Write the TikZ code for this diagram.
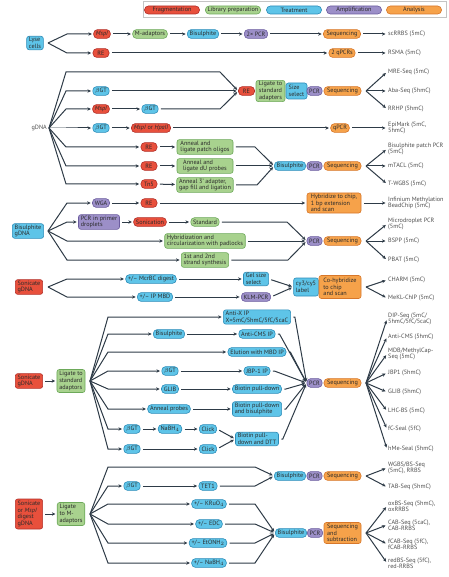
\documentclass[tikz,border=0pt]{standalone}
\usepackage{fontspec}
\setmainfont{PT Sans}
\usetikzlibrary{arrows.meta}

\definecolor{fragfill}{HTML}{E8503C}
\definecolor{fragline}{HTML}{B3302A}
\definecolor{libfill}{HTML}{A8D28E}
\definecolor{libline}{HTML}{6DA95A}
\definecolor{treatfill}{HTML}{5EC4E8}
\definecolor{treatline}{HTML}{2C8CB8}
\definecolor{ampfill}{HTML}{9C8FC8}
\definecolor{ampline}{HTML}{6B5C9E}
\definecolor{anafill}{HTML}{F6A24A}
\definecolor{analine}{HTML}{D7772A}
\definecolor{boxtext}{HTML}{2B2B2B}
\definecolor{labtext}{HTML}{4D4D4D}
\definecolor{linkcol}{HTML}{2E3B47}
\definecolor{legendline}{HTML}{C4C4C4}

\tikzset{
  box/.style={draw, line width=0.6pt, rounded corners=3.8pt, minimum width=16pt,
    minimum height=8.8pt, inner xsep=2.3pt, inner ysep=0.6pt,
    font=\fontsize{6.2}{6.6}\selectfont, text=boxtext, align=left},
  blk/.style={rounded corners=2.4pt, inner ysep=1.2pt},
  frag/.style={box, fill=fragfill, draw=fragline},
  lib/.style={box, fill=libfill, draw=libline},
  treat/.style={box, fill=treatfill, draw=treatline},
  amp/.style={box, fill=ampfill, draw=ampline},
  ana/.style={box, fill=anafill, draw=analine},
  legpill/.style={minimum width=55pt, minimum height=8pt},
  readout/.style={anchor=west, inner sep=1pt, font=\fontsize{6.2}{6.2}\selectfont,
    text=labtext, align=left},
  link/.style={draw=linkcol, line width=1pt,
    -{Stealth[length=3.6pt,width=3.4pt]}, shorten >=1.5pt},
  hop/.style={link, shorten <=2.5pt},
}

\begin{document}
\begin{tikzpicture}[x=1pt, y=-1pt]
    \useasboundingbox (0,0) rectangle (448,577);

    % Legend
    \draw[legendline, line width=0.7pt] (143,1.5) rectangle (446,17.5);
    \node[frag, legpill] (leg1) at (172,10) {Fragmentation};
    \node[lib, legpill] (leg2) at (233,10) {Library preparation};
    \node[treat, legpill] (leg3) at (294,10) {Treatment};
    \node[amp, legpill] (leg4) at (354,10) {Amplification};
    \node[ana, legpill] (leg5) at (414,10) {Analysis};

    % Single cells
    \node[treat, blk] (lyse) at (35,43) {Lyse\\cells};
    \coordinate (f1) at (48,43);
    \coordinate (b1) at (67,43);
    \node[frag] (msp1) at (102,34) {\textit{MspI}};
    \node[lib] (madapt) at (150,34) {M-adaptors};
    \node[treat] (bis1) at (203,34) {Bisulphite};
    \node[amp] (pcr1) at (256,34) {2× PCR};
    \node[ana, minimum width=37pt] (seq1) at (342,34) {Sequencing};
    \node[readout] (r1a) at (387,34) {scRRBS (5mC)};
    \node[frag] (re1) at (101,53) {RE};
    \node[ana] (qpcr1) at (342,53) {2 qPCRs};
    \node[readout] (r1b) at (387,53) {RSMA (5mC)};
    \foreach \n in {msp1, re1}
        \draw[link] (f1) -- (\n.west -| b1) -- (\n.west);
    \draw[hop] (msp1) -- (madapt);
    \draw[hop] (madapt) -- (bis1);
    \draw[hop] (bis1) -- (pcr1);
    \draw[hop] (pcr1) -- (seq1);
    \draw[hop] (seq1.east) -- (r1a.west);
    \draw[hop] (re1) -- (qpcr1);
    \draw[hop] (qpcr1.east) -- (r1b.west);

    % gDNA
    \node[readout, anchor=east] (gdna) at (48,128) {gDNA};
    \coordinate (f2) at (49,128);
    \coordinate (b2) at (66,128);
    \node[treat] (bgt2a) at (101,91) {$\beta$GT};
    \node[frag] (msp2) at (101,109) {\textit{MspI}};
    \node[treat] (bgt2b) at (150,109) {$\beta$GT};
    \node[treat] (bgt2c) at (101,128) {$\beta$GT};
    \node[frag] (mh2) at (151,128) {\textit{MspI} or \textit{HpaII}};
    \node[ana] (qpcr2) at (340,128) {qPCR};
    \node[readout] (r2d) at (387,128) {EpiMark (5mC,\\5hmC)};
    \node[frag] (re2) at (246.5,91) {RE};
    \node[lib, blk, align=center, minimum width=29pt] (lig2) at (270.5,91) {Ligate to\\standard\\adapters};
    \node[treat, blk, minimum width=21pt, minimum height=16pt] (size2) at (296.5,91) {Size\\select};
    \node[amp, minimum width=15pt] (pcr2) at (314.5,91) {PCR};
    \node[ana, minimum width=37pt] (seq2) at (342.5,91) {Sequencing};
    \node[frag] (re2a) at (149,147) {RE};
    \node[frag] (re2b) at (149,166) {RE};
    \node[frag] (tn5) at (149,184) {Tn5};
    \node[lib, blk, minimum width=56pt] (patch) at (205,147) {Anneal and\\ligate patch oligos};
    \node[lib, blk, minimum width=56pt] (dU) at (205,166) {Anneal and\\ligate dU probes};
    \node[lib, blk, minimum width=56pt] (gapfill) at (205,185) {Anneal 3' adapter,\\gap fill and ligation};
    \node[treat] (bis2) at (290,166) {Bisulphite};
    \node[amp, minimum width=15pt] (pcr2b) at (314.5,166) {PCR};
    \node[ana, minimum width=37pt] (seq2b) at (342.5,166) {Sequencing};

    \draw[link] (f2) -- (66,72) -- (220,72) -- (re2.west);
    \foreach \n in {bgt2a, msp2, bgt2c, re2a, re2b, tn5}
        \draw[link] (f2) -- (\n.west -| b2) -- (\n.west);
    \draw[hop] (bgt2a) -- (re2);
    \draw[hop] (msp2) -- (bgt2b);
    \draw[hop] (bgt2b.east) -- (220,109) -- (re2.west);
    \draw[hop] (bgt2c) -- (mh2);
    \draw[hop] (mh2) -- (qpcr2);
    \draw[hop] (qpcr2.east) -- (r2d.west);
    \draw[hop] (re2a) -- (patch);
    \draw[hop] (re2b) -- (dU);
    \draw[hop] (tn5) -- (gapfill);
    \draw[hop] (patch.east) -- (255,147) -- (bis2.west);
    \draw[hop] (dU) -- (bis2);
    \draw[hop] (gapfill.east) -- (257,185) -- (bis2.west);

    \coordinate (x2) at (366,91);
    \foreach \y/\t [count=\i] in {72/{MRE-Seq (5mC)}, 91/{Aba-Seq (5hmC)}, 109/{RRHP (5hmC)}} {
        \node[readout] (r2-\i) at (387,\y) {\t};
        \draw[link] (x2) -- (r2-\i.west);
    }
    \coordinate (x2b) at (366,166);
    \foreach \y/\t [count=\i] in {149/{Bisulphite patch PCR\\(5mC)}, 166/{mTACL (5mC)}, 184/{T-WGBS (5mC)}} {
        \node[readout] (r2b-\i) at (387,\y) {\t};
        \draw[link] (x2b) -- (r2b-\i.west);
    }

    % Bisulphite gDNA
    \node[treat, blk] (bgdna) at (28,231) {Bisulphite\\gDNA};
    \coordinate (f3) at (48,231);
    \coordinate (b3) at (67,231);
    \node[amp] (wga) at (101,203) {WGA};
    \node[frag] (re3) at (149,203) {RE};
    \node[ana, blk, minimum width=54pt] (chip) at (334,203) {Hybridize to chip,\\1 bp extension\\and scan};
    \node[readout] (r3a) at (387,203) {Infinium Methylation\\BeadChip (5mC)};
    \node[amp, blk] (droplet) at (99,222) {PCR in primer\\droplets};
    \node[frag] (sonic3) at (150,222) {Sonication};
    \node[lib] (std) at (205,222) {Standard};
    \node[lib, blk] (padlock) at (205,241) {Hybridization and\\circularization with padlocks};
    \node[lib, blk] (strand) at (205,260) {1st and 2nd\\strand synthesis};
    \node[amp, minimum width=15pt] (pcr3) at (314.5,241) {PCR};
    \node[ana, minimum width=37pt] (seq3) at (342.5,241) {Sequencing};
    \foreach \n in {wga, droplet, padlock, strand}
        \draw[link] (f3) -- (\n.west -| b3) -- (\n.west);
    \draw[hop] (wga) -- (re3);
    \draw[hop] (re3) -- (chip);
    \draw[hop] (chip.east) -- (r3a.west);
    \draw[hop] (droplet) -- (sonic3);
    \draw[hop] (sonic3) -- (std);
    \draw[hop] (std.east) -- (287,222) -- (pcr3.west);
    \draw[hop] (padlock) -- (pcr3);
    \draw[hop] (strand.east) -- (288,260) -- (pcr3.west);
    \coordinate (x3) at (366,241);
    \foreach \y/\t [count=\i] in {224/{Microdroplet PCR\\(5mC)}, 241/{BSPP (5mC)}, 260/{PBAT (5mC)}} {
        \node[readout] (r3-\i) at (387,\y) {\t};
        \draw[link] (x3) -- (r3-\i.west);
    }

    % Sonicate gDNA, arrays
    \node[frag, blk] (sonic4) at (29,287) {Sonicate\\gDNA};
    \coordinate (f4) at (48,287);
    \coordinate (b4) at (67,287);
    \node[treat] (mcrbc) at (151,279) {+/– McrBC digest};
    \node[treat] (ipmbd) at (155,297) {+/– IP MBD};
    \node[treat, blk] (gel) at (256,279) {Gel size\\select};
    \node[amp] (klm) at (256,297) {KLM-PCR};
    \node[treat, blk, minimum height=18pt] (cy) at (306,287) {cy3/cy5\\label};
    \node[ana, blk, minimum width=42pt, minimum height=23pt] (cohyb) at (340,287) {Co-hybridize\\to chip\\and scan};
    \foreach \n in {mcrbc, ipmbd}
        \draw[link] (f4) -- (\n.west -| b4) -- (\n.west);
    \draw[hop] (mcrbc) -- (gel);
    \draw[hop] (ipmbd) -- (klm);
    \draw[hop] (gel.east) -- (cy.west);
    \draw[hop] (klm.east) -- (cy.west);
    \coordinate (x4) at (366,287);
    \foreach \y/\t [count=\i] in {280/{CHARM (5mC)}, 298/{MeKL-ChIP (5mC)}} {
        \node[readout] (r4-\i) at (387,\y) {\t};
        \draw[link] (x4) -- (r4-\i.west);
    }

    % Sonicate gDNA, enrichment
    \node[frag, blk] (sonic5) at (29,381) {Sonicate\\gDNA};
    \node[lib, blk, minimum height=23pt] (lig5) at (71,381) {Ligate to\\standard\\adaptors};
    \draw[hop] (sonic5) -- (lig5);
    \coordinate (f5) at (90,381);
    \coordinate (b5) at (108,381);
    \node[treat, blk] (antix) at (257,317) {Anti-X IP\\X=5mC/5hmC/5fC/5caC};
    \node[treat] (bis5) at (169,334) {Bisulphite};
    \node[treat] (cms) at (257,334) {Anti-CMS IP};
    \node[treat] (mbd) at (257,352) {Elution with MBD IP};
    \node[treat] (bgt5) at (170,371) {$\beta$GT};
    \node[treat] (jbp) at (257,371) {JBP-1 IP};
    \node[treat] (glib) at (170,389) {GLIB};
    \node[treat] (biotin) at (257,389) {Biotin pull-down};
    \node[treat] (anneal) at (169,409) {Anneal probes};
    \node[treat, blk] (biobis) at (257,409) {Biotin pull-down\\and bisulphite};
    \node[treat] (bgt5b) at (132,429) {$\beta$GT};
    \node[treat] (nabh) at (170,429) {NaBH$_4$};
    \node[treat] (click1) at (208,429) {Click};
    \node[treat] (bgt5c) at (132,449) {$\beta$GT};
    \node[treat] (click2) at (208,449) {Click};
    \node[treat, blk] (dtt) at (257,439) {Biotin pull-\\down and DTT};
    \node[amp, minimum width=15pt] (pcr5) at (314.5,383) {PCR};
    \node[ana, minimum width=37pt] (seq5) at (342.5,383) {Sequencing};
    \foreach \n in {antix, bis5, mbd, bgt5, glib, anneal, bgt5b, bgt5c}
        \draw[link] (f5) -- (\n.west -| b5) -- (\n.west);
    \draw[hop] (bis5) -- (cms);
    \draw[hop] (bgt5) -- (jbp);
    \draw[hop] (glib) -- (biotin);
    \draw[hop] (anneal) -- (biobis);
    \draw[hop] (bgt5b) -- (nabh);
    \draw[hop] (nabh) -- (click1);
    \draw[hop] (bgt5c) -- (click2);
    \draw[hop] (click1.east) -- (dtt.west);
    \draw[hop] (click2.east) -- (dtt.west);
    \foreach \n in {antix, cms, mbd, jbp, biotin, biobis, dtt}
        \draw[hop] (\n.east) -- ++(4,0) -- (pcr5.west);
    \coordinate (x5) at (366,383);
    \foreach \y/\t [count=\i] in {319/{DIP-Seq (5mC/\\5hmC/5fC/5caC)}, 337/{Anti-CMS (5hmC)},
        354/{MDB/MethylCap-\\Seq (5mC)}, 373/{JBP1 (5hmC)}, 392/{GLIB (5hmC)},
        411/{LHC-BS (5mC)}, 429/{fC-Seal (5fC)}, 449/{hMe-Seal (5hmC)}} {
        \node[readout] (r5-\i) at (387,\y) {\t};
        \draw[link] (x5) -- (r5-\i.west);
    }

    % Sonicate or MspI digest gDNA
    \node[frag, blk, minimum height=30pt] (sonic6) at (29,514) {Sonicate\\or \textit{MspI}\\digest\\gDNA};
    \node[lib, blk, minimum height=23pt] (lig6) at (71,514) {Ligate\\to M-\\adaptors};
    \draw[hop] (sonic6) -- (lig6);
    \coordinate (f6) at (90,514);
    \coordinate (b6) at (108,514);
    \node[treat] (bgt6) at (132,486) {$\beta$GT};
    \node[treat] (tet) at (208,486) {TET1};
    \node[treat] (kruo) at (209,504) {+/– KRuO$_4$};
    \node[treat] (edc) at (209,524) {+/– EDC};
    \node[treat] (eton) at (208,543) {+/– EtONH$_2$};
    \node[treat] (nab6) at (209,563) {+/– NaBH$_4$};
    \node[treat] (bis6a) at (290,476) {Bisulphite};
    \node[amp, minimum width=15pt] (pcr6a) at (314.5,476) {PCR};
    \node[ana, minimum width=37pt] (seq6a) at (342.5,476) {Sequencing};
    \node[treat] (bis6b) at (291,533) {Bisulphite};
    \node[amp, minimum width=15pt] (pcr6b) at (315,533) {PCR};
    \node[ana, blk, minimum width=37pt, minimum height=21pt] (subtr) at (342.5,533) {Sequencing\\and\\subtraction};
    \draw[link] (f6) -- (108,467) -- (255,467) -- (bis6a.west);
    \foreach \n in {bgt6, kruo, edc, eton, nab6}
        \draw[link] (f6) -- (\n.west -| b6) -- (\n.west);
    \draw[hop] (bgt6) -- (tet);
    \draw[hop] (tet.east) -- (255,486) -- (bis6a.west);
    \foreach \n in {kruo, edc, eton, nab6}
        \draw[hop] (\n.east) -- (255,0 |- \n.east) -- (bis6b.west);
    \coordinate (x6a) at (366,476);
    \foreach \y/\t [count=\i] in {468/{WGBS/BS-Seq\\(5mC), RRBS}, 487/{TAB-Seq (5hmC)}} {
        \node[readout] (r6a-\i) at (387,\y) {\t};
        \draw[link] (x6a) -- (r6a-\i.west);
    }
    \coordinate (x6b) at (366,533);
    \foreach \y/\t [count=\i] in {506/{oxBS-Seq (5hmC),\\oxRRBS}, 525/{CAB-Seq (5caC),\\CAB-RRBS},
        544/{fCAB-Seq (5fC),\\fCAB-RRBS}, 563/{redBS-Seq (5fC),\\red-RRBS}} {
        \node[readout] (r6b-\i) at (387,\y) {\t};
        \draw[link] (x6b) -- (r6b-\i.west);
    }
\end{tikzpicture}
\end{document}
